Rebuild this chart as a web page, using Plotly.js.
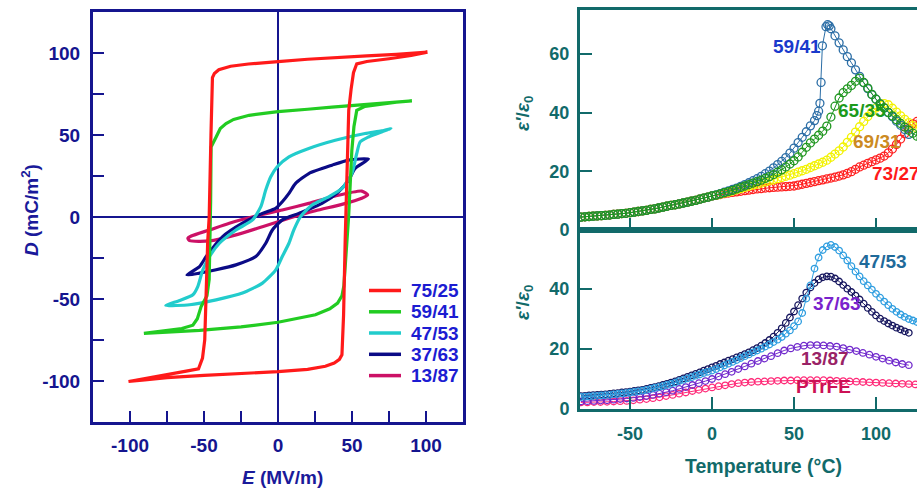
<!DOCTYPE html>
<html>
<head>
<meta charset="utf-8">
<script src="https://cdn.plot.ly/plotly-3.0.1.min.js"></script>
<style>
html,body{margin:0;padding:0;overflow:hidden;background:#fff;}
#chart{width:960px;height:489px;}
</style>
</head>
<body>
<div id="chart"></div>
<script>
// ---------------- Left panel: D-E hysteresis loops ----------------
const loopNames = ['75/25', '59/41', '47/53', '37/63', '13/87'];
const loopColors = ['#ff1a1a', '#22cc22', '#22cccc', '#0b0b86', '#cc1166'];

const redE = [101, 95, 80, 60, 40, 20, 0, -20, -32, -40, -43, -44.3, -45.3, -46.5, -47.5, -48.5, -49.5, -51, -53.7, -62, -75, -90, -101,
  -90, -75, -50, -25, 0, 20, 32, 38, 41.5, 43.2, 44.3, 45.4, 45.8, 46.8, 47.8, 49.4, 51, 53.2, 60, 75, 90, 101];
const redD = [100.5, 100, 99.2, 98.3, 97.3, 96.2, 94.8, 93.3, 91.9, 89.8, 87.5, 85, 50, 0, -15, -50, -75, -86, -92.6, -94, -96.2, -98.6, -100.3,
  -99.3, -98, -96.6, -95.5, -94.3, -92.9, -91, -89, -86.8, -84, -60, -14, 0, 40, 65, 78, 88, 93.4, 94.8, 96.5, 98.5, 100.5];

const greenE = [90.5, 70, 50, 36.4, 20, 0, -19.5, -30, -35.1, -39, -41.8, -43.5, -45.2, -45.5, -45.8, -46.5, -48, -51.9, -54.5, -57.5, -65, -78, -90.6,
  -75, -53, -25, 0, 25.3, 35, 40.3, 43.2, 44.5, 45.5, 46.5, 47.7, 48.8, 49.9, 51.3, 53.2, 58.8, 70, 80, 90.5];
const greenD = [70.8, 69.5, 68.2, 67, 65.7, 64.2, 62, 59.5, 57, 54, 48.8, 46, 42.7, 10, -20, -38, -48, -54.5, -62, -66, -68, -69.5, -71,
  -70.2, -69.1, -67, -64.2, -59.6, -56, -52.5, -48, -42, -30, -12, 0, 20, 40.7, 55, 65, 67.5, 69, 70, 70.8];

const cyanE = [76.3, 70, 58.8, 38.7, 20.8, 7.4, -0.5, -4.9, -8.3, -11.6, -17.2, -28.4, -39.6, -46.3, -50.8, -54.2, -57.5, -66.4, -75.8,
  -59.7, -41.8, -24, -10.5, -1.5, 2.9, 7.4, 10.7, 15.2, 23, 34.2, 43.2, 49.9, 53.2, 55.5, 61.1, 70, 76.3];
const cyanD = [53.9, 52.5, 50.9, 46.8, 41.8, 36.7, 30.6, 24.5, 16.4, 6.3, -1.8, -7.9, -16, -24.1, -32.2, -42.4, -47.4, -50.9, -53.9,
  -53.5, -50.5, -46.4, -40.3, -32.2, -24.1, -16, -7.9, 0.2, 7.3, 12.3, 17.4, 26.5, 38.7, 45.8, 48.8, 51.9, 53.9];

const navyE = [61.1, 47.7, 36.5, 20.8, 11.9, 7.4, 2.9, -1.6, -10.5, -24, -37.4, -48.5, -53, -61.5,
  -53, -41.8, -28.4, -15, -8.3, -3.8, 2.9, 14.1, 29.7, 40.9, 47.7, 52.1, 61.1];
const navyD = [35.3, 34.7, 31.6, 26.5, 20.5, 14.4, 9.3, 5.3, 2.2, -3.8, -12, -24.1, -30.2, -35.3,
  -34.2, -32.2, -29.2, -24.1, -16, -7.9, -1.8, 2.2, 8.3, 15.4, 22.5, 29.6, 35.3];

const crimE = [60.6, 56.6, 38.7, 20.8, 2.9, -15, -32.9, -46.3, -58.6, -60.9,
  -59.7, -46.3, -28.4, -10.5, 7.4, 25.3, 43.2, 56.6, 60.6];
const crimD = [13.4, 15.8, 12.8, 8.3, 4.3, 0.6, -3.8, -7.9, -11.6, -13,
  -14.4, -14.6, -10.9, -5.9, -0.8, 3.8, 7.7, 11.4, 13.4];

const loopTicks = [-100, -50, 0, 50, 100];
const loopTickText = ['-100', '-50', '0', '50', '100'];

// ---------------- Right top panel: eps vs T (VDF-rich) ----------------
const topNames = ['59/41', '65/35', '69/31', '73/27'];

const tBlue = [-80,-77.5,-75,-72.5,-70,-67.5,-65,-62.5,-60,-57.5,-55,-52.5,-50,-47.5,-45,-42.5,-40,-37.5,-35,-32.5,-30,-27.5,-25,-22.5,-20,-17.5,-15,-12.5,-10,-7.5,-5,-2.5,0,2.5,5,7.5,10,12.5,15,17.5,20,22.5,25,27.5,30,32.5,35,37.5,40,42.5,45,47.5,50,52.5,55,57.5,60,62.5,
  64,65,65.8,66.5,67.3,69.5,70.5,71.5,72.5,75,77.5,80,82.5,85,87.5,90,92.5,95,97.5,100,102.5,105,107.5,110,112.5,115,117.5,120];
const eBlue = [4.4,4.5,4.6,4.7,4.8,4.9,5.0,5.1,5.3,5.4,5.6,5.7,5.9,6.1,6.3,6.5,6.7,7.0,7.2,7.5,7.8,8.1,8.4,8.6,8.9,9.2,9.5,9.8,10.1,10.5,10.9,11.2,11.6,12.0,12.4,12.9,13.3,13.8,14.3,14.9,15.5,16.1,16.8,17.5,18.3,19.2,20.1,21.2,22.3,23.4,24.7,26.2,27.9,29.8,31.6,33.5,35.5,37.3,
  39.0,40.5,43.2,50.3,62.8,69.3,70.0,69.6,68.6,66.2,63.8,61.4,59.1,57.0,54.6,52.4,50.2,48.2,46.2,44.6,43.0,41.6,40.0,38.6,37.1,35.7,34.3,32.6];

const tTop = [-80,-77.5,-75,-72.5,-70,-67.5,-65,-62.5,-60,-57.5,-55,-52.5,-50,-47.5,-45,-42.5,-40,-37.5,-35,-32.5,-30,-27.5,-25,-22.5,-20,-17.5,-15,-12.5,-10,-7.5,-5,-2.5,0,2.5,5,7.5,10,12.5,15,17.5,20,22.5,25,27.5,30,32.5,35,37.5,40,42.5,45,47.5,50,52.5,55,57.5,60,62.5,65,67.5,70,72.5,75,77.5,80,82.5,85,87.5,90,92.5,95,97.5,100,102.5,105,107.5,110,112.5,115,117.5,120,122.5,125,127.5];
const eGreen = [4.4,4.5,4.6,4.7,4.8,4.9,5.0,5.1,5.3,5.4,5.6,5.7,5.9,6.1,6.3,6.5,6.7,7.0,7.2,7.5,7.8,8.1,8.4,8.6,8.9,9.2,9.5,9.8,10.1,10.5,10.9,11.2,11.6,11.9,12.3,12.7,13.1,13.5,14.0,14.5,15.0,15.5,16.0,16.5,17.0,17.6,18.2,18.9,19.7,20.5,21.5,22.5,23.6,24.9,26.5,28.2,29.7,31.0,32.3,33.7,35.4,38.5,42.2,45.0,46.8,48.1,49.3,50.7,51.8,50.3,48.4,46.2,44.6,43.0,41.6,40.1,38.9,37.6,36.3,35.1,34.0,33.0,32.0,31.2];
const eYellow = [4.4,4.5,4.6,4.7,4.8,4.9,5.0,5.1,5.3,5.4,5.6,5.7,5.9,6.1,6.3,6.5,6.7,7.0,7.2,7.5,7.8,8.1,8.4,8.6,8.9,9.2,9.5,9.8,10.1,10.5,10.9,11.2,11.6,11.9,12.2,12.6,12.9,13.3,13.7,14.1,14.5,14.9,15.3,15.6,16.0,16.4,16.8,17.1,17.5,17.9,18.3,18.7,19.2,19.7,20.2,20.7,21.3,21.9,22.5,23.1,23.8,24.8,25.9,27.0,28.3,29.9,31.6,33.4,35.2,37.0,38.7,40.3,41.6,42.6,43.1,42.7,41.5,40.2,38.9,37.7,36.6,35.6,34.7,33.9];
const eRed = [4.4,4.5,4.6,4.7,4.8,4.9,5.0,5.1,5.3,5.4,5.6,5.7,5.9,6.1,6.3,6.5,6.7,7.0,7.2,7.5,7.8,8.1,8.4,8.6,8.9,9.2,9.5,9.8,10.1,10.5,10.9,11.2,11.6,11.8,12.1,12.4,12.6,12.8,13.0,13.2,13.4,13.6,13.8,14.0,14.1,14.3,14.4,14.5,14.6,14.7,14.8,14.9,15.0,15.3,15.6,15.9,16.2,16.5,16.8,17.1,17.4,17.7,18.0,18.4,18.8,19.3,19.9,20.7,21.5,22.1,22.7,23.3,23.9,24.5,25.2,26.3,27.6,29.2,31.0,32.8,34.6,36.2,37.0,37.2];

// ---------------- Right bottom panel: eps vs T (TrFE-rich) ----------------
const botNames = ['47/53', '37/63', '13/87', 'PTrFE'];

const tLb = [-80,-77.5,-75,-72.5,-70,-67.5,-65,-62.5,-60,-57.5,-55,-52.5,-50,-47.5,-45,-42.5,-40,-37.5,-35,-32.5,-30,-27.5,-25,-22.5,-20,-17.5,-15,-12.5,-10,-7.5,-5,-2.5,0,2.5,5,7.5,10,12.5,15,17.5,20,22.5,25,27.5,30,32.5,35,37.5,40,42.5,45,47.5,50,52.5,55,57.5,60,62.5,65,67.5,70,72.5,75,77.5,80,82.5,85,87.5,90,92.5,95,97.5,100,102.5,105,107.5,110,112.5,115,117.5,120,122.5,125,127.5];
const eLb = [4.0,4.1,4.2,4.3,4.4,4.5,4.6,4.7,4.9,5.0,5.2,5.3,5.5,5.7,5.9,6.1,6.4,6.7,7.0,7.3,7.6,8.0,8.4,8.8,9.3,9.7,10.2,10.6,11.1,11.5,12.0,12.4,12.8,13.3,13.9,14.5,15.1,15.7,16.3,17.0,17.6,18.2,18.9,19.5,20.1,20.8,21.5,22.3,23.1,24.0,25.1,26.2,27.6,29.2,32.0,36.8,41.2,46.8,50.5,53.0,54.2,54.7,54.0,52.8,51.2,49.5,47.6,45.8,44.2,42.6,41.2,39.8,38.4,37.1,35.8,34.6,33.4,32.4,31.5,30.7,30.0,29.5,29.0,28.6];

const tNavy = [-80,-77.5,-75,-72.5,-70,-67.5,-65,-62.5,-60,-57.5,-55,-52.5,-50,-47.5,-45,-42.5,-40,-37.5,-35,-32.5,-30,-27.5,-25,-22.5,-20,-17.5,-15,-12.5,-10,-7.5,-5,-2.5,0,2.5,5,7.5,10,12.5,15,17.5,20,22.5,25,27.5,30,32.5,35,37.5,40,42.5,45,47.5,50,52.5,55,57.5,60,62.5,65,67.5,70,72.5,75,77.5,80,82.5,85,87.5,90,92.5,95,97.5,100,102.5,105,107.5,110,112.5,115,117.5,120];
const eNavy = [4.3,4.4,4.5,4.6,4.7,4.8,4.9,5.0,5.2,5.3,5.5,5.6,5.8,6.0,6.2,6.4,6.7,7.0,7.3,7.6,8.0,8.4,8.8,9.2,9.7,10.2,10.7,11.2,11.7,12.2,12.8,13.3,13.9,14.4,15.0,15.5,16.1,16.6,17.2,17.7,18.3,18.9,19.6,20.3,21.1,22.0,23.0,24.1,25.4,26.9,28.7,30.5,32.5,34.6,36.8,38.8,40.5,42.0,43.2,43.9,44.2,44.1,43.5,42.5,41.3,40.1,39.0,37.8,36.5,35.1,33.7,32.4,31.2,30.1,29.3,28.5,27.8,27.1,26.5,25.9,25.4];

const tPurple = [-80,-76,-72,-68,-64,-60,-56,-52,-48,-44,-40,-36,-32,-28,-24,-20,-16,-12,-8,-4,0,4,8,12,16,20,24,28,32,36,40,44,48,52,56,60,64,68,72,76,80,84,88,92,96,100,104,108,112,116,120];
const ePurple = [2.5,2.6,2.7,2.8,2.9,3.1,3.3,3.5,3.7,4.0,4.3,4.7,5.1,5.6,6.1,6.7,7.3,8.0,8.6,9.3,10.0,10.8,11.6,12.4,13.3,14.2,15.1,16.0,16.8,17.6,18.6,19.5,20.2,20.7,21.1,21.3,21.3,21.2,21.0,20.8,20.3,19.8,19.3,18.7,18.1,17.4,16.8,16.1,15.5,15.0,14.6];

const tPink = [-80,-76,-72,-68,-64,-60,-56,-52,-48,-44,-40,-36,-32,-28,-24,-20,-16,-12,-8,-4,0,4,8,12,16,20,24,28,32,36,40,44,48,52,56,60,64,68,72,76,80,84,88,92,96,100,104,108,112,116,120,124,128];
const ePink = [2.2,2.2,2.3,2.3,2.4,2.5,2.6,2.7,2.9,3.1,3.3,3.6,3.9,4.3,4.7,5.1,5.5,6.0,6.4,6.8,7.2,7.6,7.9,8.3,8.6,8.8,9.0,9.1,9.2,9.3,9.4,9.5,9.5,9.6,9.6,9.6,9.6,9.6,9.5,9.4,9.3,9.2,9.1,9.0,8.9,8.8,8.7,8.6,8.5,8.4,8.3,8.2,8.1];

const tempTicks = [-50, 0, 50, 100, 150];
const tempTickText = ['-50', '0', '50', '100', '150'];
const epsTicks = [0, 20, 40, 60];

// ---------------- Styling ----------------
const W = 960, H = 489;
const FONT = '"Liberation Sans", Arial, sans-serif';
const NAVY = '#15158f';
const TEAL = '#116a6a';
const px = v => v / W;
const py = v => 1 - v / H;

const loopData = [
  {x: crimE, y: crimD, i: 4, shape: 'spline'},
  {x: navyE, y: navyD, i: 3, shape: 'spline'},
  {x: cyanE, y: cyanD, i: 2, shape: 'spline'},
  {x: greenE, y: greenD, i: 1, shape: 'linear'},
  {x: redE, y: redD, i: 0, shape: 'linear'}
];
const loopTraces = loopData.map(t => ({
  type: 'scatter', mode: 'lines', x: t.x, y: t.y, name: loopNames[t.i],
  line: {color: loopColors[t.i], width: 3.2, shape: t.shape, smoothing: 0.6},
  xaxis: 'x', yaxis: 'y', showlegend: false
}));

function epsTrace(x, y, color, ax, size, lw) {
  return {type: 'scatter', mode: 'lines+markers', x: x, y: y, xaxis: 'x' + ax, yaxis: 'y' + ax,
    showlegend: false, line: {color: color, width: 1},
    marker: {symbol: 'circle-open', size: size, color: color, line: {width: lw, color: color}}};
}

const topTraces = [
  epsTrace(tTop, eRed, '#ff2020', 2, 8, 1.3),
  epsTrace(tTop, eYellow, '#f2f200', 2, 8, 1.3),
  epsTrace(tBlue, eBlue, '#2c6ea6', 2, 8, 1.3),
  epsTrace(tTop, eGreen, '#1f961f', 2, 8, 1.3)
];
const botTraces = [
  epsTrace(tPink, ePink, '#ff2a78', 3, 6.5, 1.3),
  epsTrace(tPurple, ePurple, '#7028cc', 3, 6.5, 1.3),
  epsTrace(tNavy, eNavy, '#16165e', 3, 6.5, 1.3),
  epsTrace(tLb, eLb, '#2f9ee0', 3, 6.5, 1.3)
];

const boldFont = (size, color) => ({family: FONT, size: size, color: color, weight: 'bold'});

const loopAxisCommon = {
  range: [-125, 125], tickmode: 'array', tickvals: loopTicks, ticktext: loopTickText,
  ticks: 'inside', ticklen: 11, tickwidth: 2, tickcolor: NAVY,
  minor: {tickmode: 'array', tickvals: [-125, -75, -25, 25, 75, 125], ticks: 'inside', ticklen: 11, tickwidth: 2, tickcolor: NAVY},
  showline: true, mirror: true, linewidth: 3, linecolor: NAVY,
  zeroline: true, zerolinecolor: NAVY, zerolinewidth: 1.6,
  showgrid: false, tickfont: boldFont(19, NAVY), fixedrange: true
};

const tempX = {
  range: [-80.5, 150], tickmode: 'array', tickvals: tempTicks, ticktext: tempTickText,
  ticks: 'inside', ticklen: 12, tickwidth: 2, tickcolor: TEAL,
  showline: true, mirror: true, linewidth: 3, linecolor: TEAL,
  zeroline: false, showgrid: false, tickfont: boldFont(18, TEAL),
  domain: [px(580), px(958)], ticklabelstandoff: 6
};
const tempY = {
  tickmode: 'array', tickvals: epsTicks,
  ticks: 'inside', ticklen: 12, tickwidth: 2, tickcolor: TEAL,
  showline: true, mirror: true, linewidth: 3, linecolor: TEAL,
  zeroline: false, showgrid: false, tickfont: boldFont(18, TEAL), ticklabelstandoff: 4
};

const ann = (x, y, text, color, xref, yref, size, angle, xanchor) => ({
  x: x, y: y, xref: xref, yref: yref, text: text, showarrow: false,
  font: boldFont(size, color), textangle: angle || 0, xanchor: xanchor || 'center', yanchor: 'middle'
});

// manual legend for the loops (rows in page pixels)
const legendRows = [290.5, 311.8, 333, 354.3, 375.6];
const legendShapes = loopNames.map((n, i) => ({
  type: 'line', xref: 'paper', yref: 'paper', x0: px(369), x1: px(401), y0: py(legendRows[i]), y1: py(legendRows[i]),
  line: {color: loopColors[i], width: 3.5}
}));
const legendTexts = loopNames.map((n, i) => ann(px(409), py(legendRows[i]), n, '#1c1cd2', 'paper', 'paper', 19, 0, 'left'));

const layout = {
  width: W, height: H,
  margin: {l: 0, r: 0, t: 0, b: 0},
  paper_bgcolor: '#fff', plot_bgcolor: '#fff',
  showlegend: false,
  xaxis: Object.assign({}, loopAxisCommon, {domain: [px(93), px(463)], anchor: 'y', ticklabelstandoff: 4}),
  yaxis: Object.assign({}, loopAxisCommon, {domain: [py(422), py(12)], anchor: 'x', ticklabelstandoff: 6}),
  xaxis2: Object.assign({}, tempX, {anchor: 'y2', showticklabels: false}),
  yaxis2: Object.assign({}, tempY, {domain: [py(230), py(10)], range: [0, 75], anchor: 'x2'}),
  xaxis3: Object.assign({}, tempX, {anchor: 'y3'}),
  yaxis3: Object.assign({}, tempY, {domain: [py(409), py(230)], range: [0, 59.67], anchor: 'x3'}),
  shapes: legendShapes,
  annotations: [
    ann(px(30), py(210), '<i>D</i> (mC/m<sup>2</sup>)', '#1a1a9a', 'paper', 'paper', 19, -90),
    ann(px(282), py(477), '<i>E</i> (MV/m)', '#1a1a9a', 'paper', 'paper', 19, 0),
    ann(px(524), py(114), "<i>ε'</i>/<i>ε</i><sub>0</sub>", TEAL, 'paper', 'paper', 19, -90),
    ann(px(524), py(303), "<i>ε'</i>/<i>ε</i><sub>0</sub>", TEAL, 'paper', 'paper', 19, -90),
    ann(px(763), py(466), 'Temperature (°C)', TEAL, 'paper', 'paper', 19.5, 0),
    ann(51.6, 62.7, topNames[0], '#1a3acc', 'x2', 'y2', 19),
    ann(91.5, 40.6, topNames[1], '#1c9a1c', 'x2', 'y2', 19),
    ann(100.5, 30.0, topNames[2], '#cc8a22', 'x2', 'y2', 19),
    ann(111.9, 19.3, topNames[3], '#ff1a1a', 'x2', 'y2', 19),
    ann(104, 49.3, botNames[0], '#1f6a9a', 'x3', 'y3', 19),
    ann(76.5, 35.2, botNames[1], '#7a22cc', 'x3', 'y3', 19),
    ann(68.9, 16.8, botNames[2], '#992266', 'x3', 'y3', 19),
    ann(68, 7.6, botNames[3], '#cc1155', 'x3', 'y3', 19)
  ].concat(legendTexts)
};

Plotly.newPlot('chart', loopTraces.concat(topTraces, botTraces), layout, {staticPlot: true, displayModeBar: false});
</script>
</body>
</html>
